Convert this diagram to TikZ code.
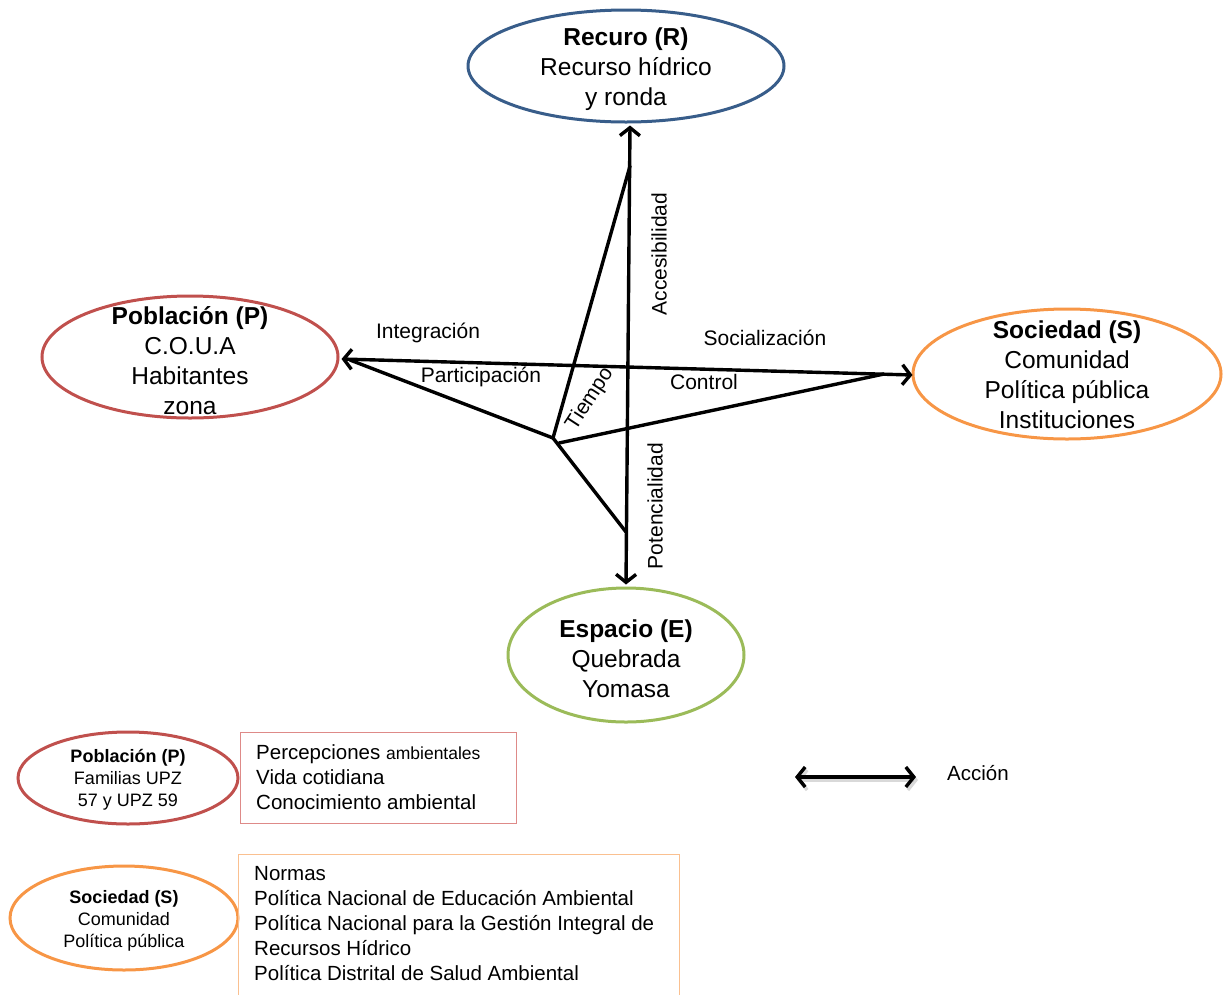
\documentclass[tikz,border=0pt]{standalone}
\usepackage{fontspec}
\setmainfont{Liberation Sans}
\usetikzlibrary{arrows.meta,calc,shapes.geometric}
\definecolor{rblue}{HTML}{385D8A}
\definecolor{pred}{HTML}{C0504D}
\definecolor{sorange}{HTML}{F79646}
\definecolor{egreen}{HTML}{9BBB59}
\definecolor{boxred}{HTML}{DE8A88}
\definecolor{boxorange}{HTML}{FAC090}
\begin{document}
\begin{tikzpicture}[x=1pt,y=-1pt,
  ring/.style={draw, ellipse, line width=3pt, inner sep=0pt},
  bigtxt/.style={align=center, inner sep=0pt, font=\fontsize{24.5}{30}\selectfont},
  smalltxt/.style={align=center, inner sep=0pt, font=\fontsize{18}{22}\selectfont},
  boxtxt/.style={align=left, inner sep=0pt, anchor=north west, font=\fontsize{20.5}{25}\selectfont},
  lab/.style={inner sep=0pt, font=\fontsize{21}{25}\selectfont},
  link/.style={line width=3.4pt, line cap=round},
  dbl/.style={line width=3.4pt, {Straight Barb[length=8pt,width=20pt,line width=3.4pt]}-{Straight Barb[length=8pt,width=20pt,line width=3.4pt]}},
]
\useasboundingbox (0,0) rectangle (1229,994);

% main actors
\node[ring, draw=rblue,   minimum width=316pt, minimum height=112pt] (R) at (626,66) {};
\node[ring, draw=pred,    minimum width=296pt, minimum height=122pt] (P) at (190,357) {};
\node[ring, draw=sorange, minimum width=308pt, minimum height=130pt] (S) at (1067,374) {};
\node[ring, draw=egreen,  minimum width=236pt, minimum height=134pt] (E) at (626,655) {};

\node[bigtxt] (Rt) at (626,69) {\textbf{Recuro (R)}\\Recurso hídrico\\y ronda};
\node[bigtxt] (Pt) at (190,361) {\textbf{Población (P)}\\C.O.U.A\\Habitantes\\zona};
\node[bigtxt] (St) at (1067,375) {\textbf{Sociedad (S)}\\Comunidad\\Política pública\\Instituciones};
\node[bigtxt] (Et) at (626,659) {\textbf{Espacio (E)}\\Quebrada\\Yomasa};

% relations
\draw[dbl] ($(E.north)+(0,-2)$) -- ($(R.south)+(4,2)$);
\draw[dbl] ($(P.east)+(2,2)$) -- ($(S.west)+(1,1)$);

\coordinate (C) at (553,438);
\coordinate (C2) at (559,443);
\coordinate (Atop) at (630,166);
\coordinate (Lft) at (350,360);
\coordinate (Rgt) at (884,374);
\coordinate (Bot) at (626,532);
\draw[link, line join=round] (Atop) -- (C) -- (Bot);
\draw[link] (Lft) -- (C);
\draw[link] (C2) -- (Rgt);

\node[lab] (lint) at (428,333) {Integración};
\node[lab] (lsoc) at (765,338) {Socialización};
\node[lab] (lpar) at (481,377) {Participación};
\node[lab] (lcon) at (704,382) {Control};
\node[lab, rotate=57] (ltie) at (590,399) {Tiempo};
\node[lab, rotate=90] (lacc) at (659,254) {Accesibilidad};
\node[lab, rotate=90] (lpot) at (655,506) {Potencialidad};

% legend
\node[ring, draw=pred,    minimum width=220pt, minimum height=92pt]  (Pl) at (128,778) {};
\node[smalltxt] (Plt) at (128,780) {\textbf{Población (P)}\\Familias UPZ\\57 y UPZ 59};
\node[ring, draw=sorange, minimum width=228pt, minimum height=104pt] (Sl) at (124,918) {};
\node[smalltxt] (Slt) at (124,921) {\textbf{Sociedad (S)}\\Comunidad\\Política pública};

\node[draw=boxred, line width=1pt, anchor=north west, minimum width=276pt, minimum height=91pt] (B1) at (240,732) {};
\node[boxtxt] (B1t) at (256,744) {Percepciones {\fontsize{17.5}{25}\selectfont ambientales}\\Vida cotidiana\\Conocimiento ambiental};

\node[draw=boxorange, line width=1pt, anchor=north west, minimum width=441pt, minimum height=160pt] (B2) at (238,854) {};
\node[boxtxt] (B2t) at (254,866) {Normas\\Política Nacional de Educación Ambiental\\Política Nacional para la Gestión Integral de\\Recursos Hídrico\\Política Distrital de Salud Ambiental};

\coordinate (k1) at (795,777);
\coordinate (k2) at (916,777);
\draw[dbl, black!25, opacity=0.6] ($(k1)+(2,3)$) -- ($(k2)+(2,3)$);
\draw[dbl] (k1) -- (k2);
\node[lab, font=\fontsize{20.5}{25}\selectfont] (lacc2) at (978,773) {Acción};
\end{tikzpicture}
\end{document}
